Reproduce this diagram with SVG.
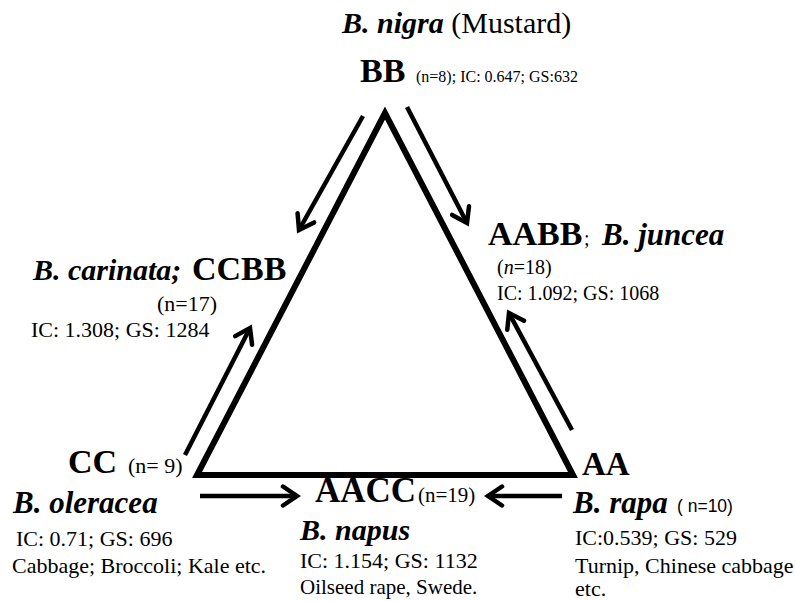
<svg xmlns="http://www.w3.org/2000/svg" width="796" height="601" viewBox="0 0 796 601">
<style>
text{font-family:"Liberation Serif","Times New Roman",serif;fill:#000}
text.sans{font-family:"Liberation Sans",Arial,sans-serif}
.bi{font-weight:bold;font-style:italic}
.b{font-weight:bold}
.arr{fill:none;stroke:#000;stroke-width:4.5;marker-end:url(#ah)}
</style>
<defs>
<marker id="ah" viewBox="0 0 24 24" refX="19" refY="12" markerWidth="24" markerHeight="24" orient="auto" markerUnits="userSpaceOnUse">
<path d="M5,2.5 L19,12 L5,21.5" fill="none" stroke="#000" stroke-width="4.5" stroke-linecap="round"/>
</marker>
</defs>
<rect width="796" height="601" fill="#fff"/>
<g id="triangle">
<polygon points="385,113 197,475 573,475" fill="none" stroke="#000" stroke-width="6"/>
</g>
<g id="connectors">
<line class="arr" x1="363" y1="116" x2="299" y2="230"/>
<line class="arr" x1="407" y1="107" x2="467" y2="223"/>
<line class="arr" x1="185" y1="455" x2="250" y2="328"/>
<line class="arr" x1="572" y1="430" x2="509" y2="313"/>
<line class="arr" x1="200" y1="496" x2="297" y2="496"/>
<line class="arr" x1="562" y1="496" x2="488" y2="496"/>
</g>
<g id="node-BB">
<text x="342" y="33" font-size="30"><tspan class="bi">B. nigra</tspan> (Mustard)</text>
<text x="360" y="82" font-size="34" class="b">BB</text>
<text x="416" y="82" font-size="16">(n=8); IC: 0.647; GS:632</text>
</g>
<g id="node-CCBB">
<text x="33" y="280" font-size="30" class="bi">B. carinata;</text>
<text x="192" y="280" font-size="34" class="b">CCBB</text>
<text x="157" y="311" font-size="22">(n=17)</text>
<text x="31" y="337" font-size="22">IC: 1.308; GS: 1284</text>
</g>
<g id="node-AABB">
<text x="488" y="245" font-size="34" class="b">AABB</text>
<text x="584" y="245" font-size="20">;</text>
<text x="602" y="245" font-size="31" class="bi">B. juncea</text>
<text x="497" y="274" font-size="20">(<tspan font-style="italic">n</tspan>=18)</text>
<text x="497" y="300" font-size="20">IC: 1.092; GS: 1068</text>
</g>
<g id="node-CC">
<text x="68" y="473" font-size="34" class="b">CC</text>
<text x="128" y="473" font-size="22">(n= 9)</text>
<text x="13" y="513" font-size="31" class="bi">B. oleracea</text>
<text x="16" y="546" font-size="22">IC: 0.71; GS: 696</text>
<text x="12" y="573" font-size="22">Cabbage; Broccoli; Kale etc.</text>
</g>
<g id="node-AACC">
<text x="315" y="502" font-size="35" class="b">AACC</text>
<text x="418" y="502" font-size="21">(n=19)</text>
<text x="300" y="540" font-size="30" class="bi">B. napus</text>
<text x="300" y="568" font-size="22">IC: 1.154; GS: 1132</text>
<text x="300" y="594" font-size="21">Oilseed rape, Swede.</text>
</g>
<g id="node-AA">
<text x="582" y="475" font-size="33" class="b">AA</text>
<text x="573" y="513" font-size="31" class="bi">B. rapa</text>
<text x="677" y="512" font-size="17.5" class="sans">( n=10)</text>
<text x="575" y="545" font-size="22">IC:0.539; GS: 529</text>
<text x="575" y="573" font-size="22">Turnip, Chinese cabbage</text>
<text x="575" y="596" font-size="22">etc.</text>
</g>
</svg>
